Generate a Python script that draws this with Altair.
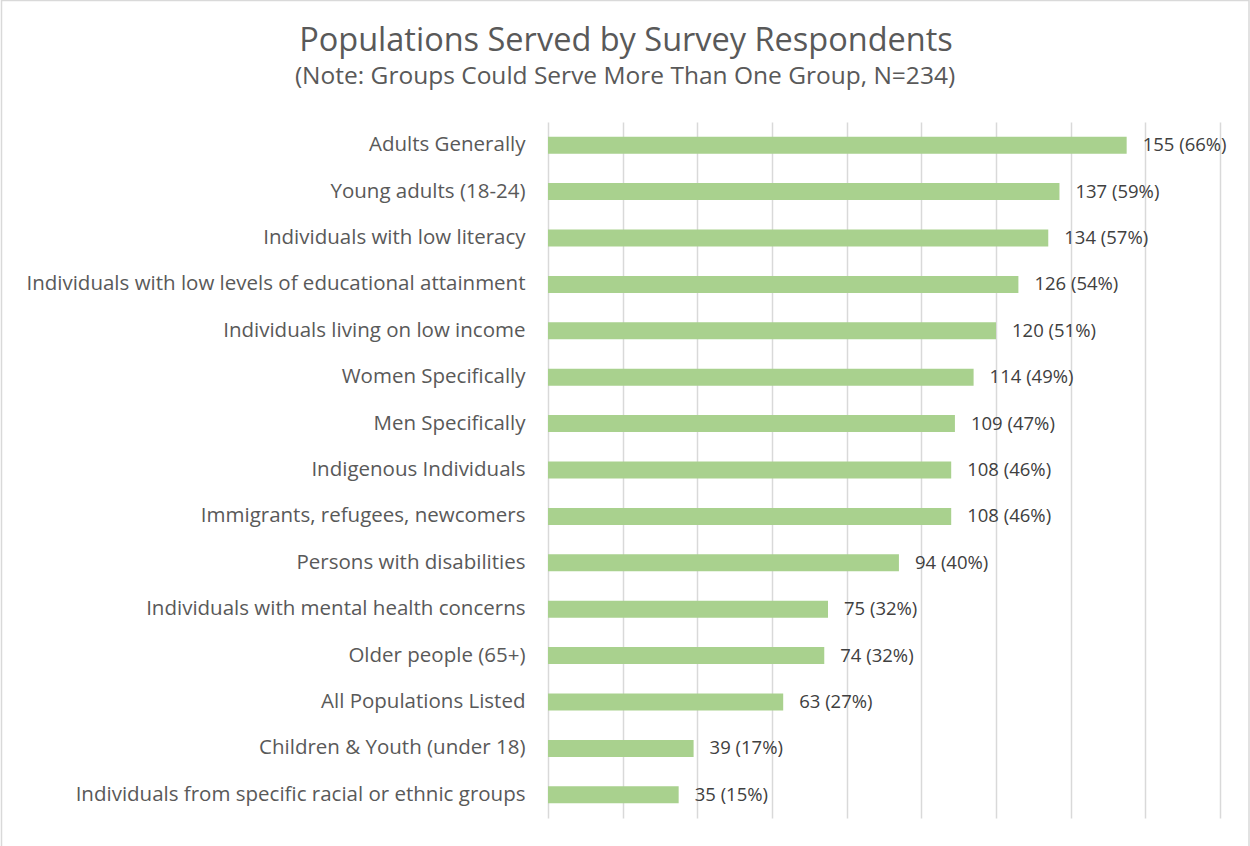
import altair as alt
import pandas as pd

categories = [
    "Adults Generally",
    "Young adults (18-24)",
    "Individuals with low literacy",
    "Individuals with low levels of educational attainment",
    "Individuals living on low income",
    "Women Specifically",
    "Men Specifically",
    "Indigenous Individuals",
    "Immigrants, refugees, newcomers",
    "Persons with disabilities",
    "Individuals with mental health concerns",
    "Older people (65+)",
    "All Populations Listed",
    "Children & Youth (under 18)",
    "Individuals from specific racial or ethnic groups",
]
counts = [155, 137, 134, 126, 120, 114, 109, 108, 108, 94, 75, 74, 63, 39, 35]
percents = [66, 59, 57, 54, 51, 49, 47, 46, 46, 40, 32, 32, 27, 17, 15]
x_ticks = [0, 20, 40, 60, 80, 100, 120, 140, 160, 180]
title_text = "Populations Served by Survey Respondents"
subtitle_text = "(Note: Groups Could Serve More Than One Group, N=234)"

df = pd.DataFrame({
    "cat": categories,
    "n": counts,
    "lbl": [f"{c} ({p}%)" for c, p in zip(counts, percents)],
})

W, H = 672, 696
grey = "#595959"
font = "Open Sans"

base = alt.Chart(df)

bars = base.mark_bar(color="#a9d18e", size=17).encode(
    x=alt.X("n:Q", scale=alt.Scale(domain=[0, 180], nice=False),
            axis=alt.Axis(values=x_ticks, labels=False, ticks=False, domain=False,
                          grid=True, gridColor="#d9d9d9", gridWidth=1.5, title=None)),
    y=alt.Y("cat:N", sort=categories,
            axis=alt.Axis(title=None, ticks=False, domain=False, grid=False,
                          labelPadding=23, labelFontSize=20.5, labelColor=grey,
                          labelFont=font, labelLimit=600)),
)

text = base.mark_text(align="left", baseline="middle", dx=16, fontSize=18.5,
                      color="#404040", font=font).encode(
    x="n:Q",
    y=alt.Y("cat:N", sort=categories),
    text="lbl:N")

one = pd.DataFrame({"a": [0]})
border = alt.Chart(one).mark_rect(
    fill=None, stroke="#d9d9d9", strokeWidth=1.5, clip=False).encode(
    x=alt.value(-546.5), x2=alt.value(W + 29), y=alt.value(-121.5), y2=alt.value(H + 60))

title = alt.Chart(pd.DataFrame({"t": [title_text]})).mark_text(
    fontSize=32.5, font=font, color=grey, align="center", baseline="middle").encode(
    x=alt.value(626 - 548), y=alt.value(41 - 122), text="t:N")
subtitle = alt.Chart(pd.DataFrame({"t": [subtitle_text]})).mark_text(
    fontSize=24.5, font=font, color=grey, align="center", baseline="middle").encode(
    x=alt.value(625 - 548), y=alt.value(77 - 122), text="t:N")

chart = alt.layer(border, bars, text, title, subtitle).properties(
    width=W, height=H,
    autosize=alt.AutoSizeParams(type="none"),
    padding={"left": 548, "top": 122, "right": 30, "bottom": 28},
).configure(background="white").configure_view(strokeWidth=0, stroke="transparent")

chart.save("out.html", embed_options={"renderer": "svg", "actions": False})
